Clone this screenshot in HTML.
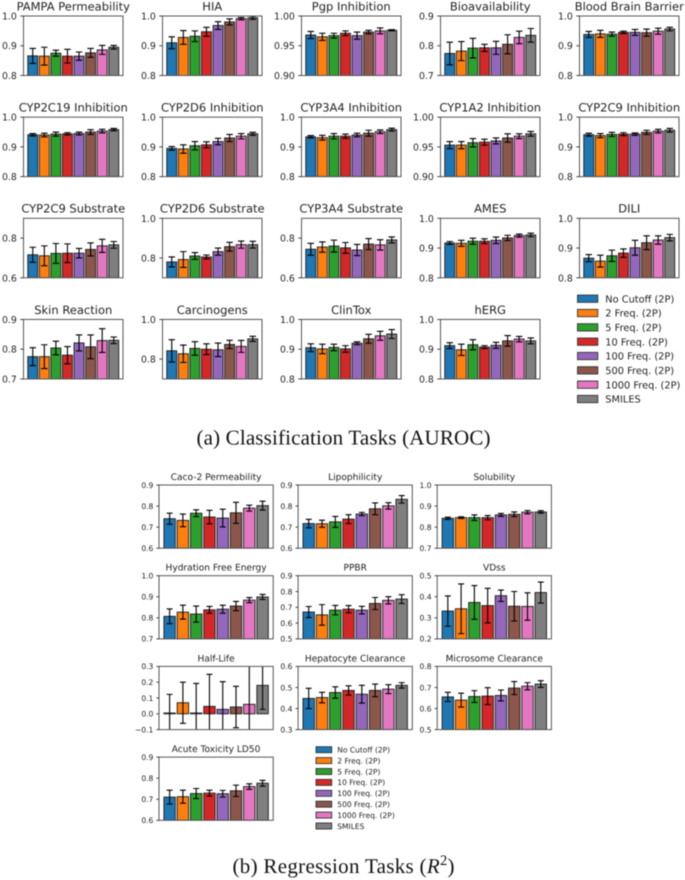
<!DOCTYPE html>
<html lang="en">
<head>
<meta charset="utf-8">
<title>Classification and Regression Task Results</title>
<style>
  html, body { margin: 0; padding: 0; background: #fff; width: 685px; height: 880px; overflow: hidden; }
  #figure { display: block; filter: blur(0.5px); text-rendering: geometricPrecision; }
  .sans { font-family: "DejaVu Sans", "Liberation Sans", sans-serif; fill: #222; }
  .serif { font-family: "Liberation Serif", serif; fill: #111; }
</style>
</head>
<body>
<svg id="figure" xmlns="http://www.w3.org/2000/svg" width="685" height="880" viewBox="0 0 685 880">
  <text class="serif" x="196.5" y="444.5" font-size="21" textLength="294" lengthAdjust="spacing">(a) Classification Tasks (AUROC)</text>
  <text class="serif" x="232.5" y="873" font-size="21" textLength="222" lengthAdjust="spacing">(b) Regression Tasks (<tspan font-style="italic">R</tspan><tspan font-size="14.5" dy="-8">2</tspan><tspan dy="8">)</tspan></text>
</svg>
<script>
/* ---------- shared series ---------- */
const categories = ["No Cutoff (2P)", "2 Freq. (2P)", "5 Freq. (2P)", "10 Freq. (2P)", "100 Freq. (2P)", "500 Freq. (2P)", "1000 Freq. (2P)", "SMILES"];
const seriesColors = ["#1f77b4", "#ff7f0e", "#2ca02c", "#d62728", "#9467bd", "#8c564b", "#e377c2", "#7f7f7f"];

/* ---------- (a) classification data ---------- */
const classTitles = ["PAMPA Permeability", "HIA", "Pgp Inhibition", "Bioavailability", "Blood Brain Barrier",
  "CYP2C19 Inhibition", "CYP2D6 Inhibition", "CYP3A4 Inhibition", "CYP1A2 Inhibition", "CYP2C9 Inhibition",
  "CYP2C9 Substrate", "CYP2D6 Substrate", "CYP3A4 Substrate", "AMES", "DILI",
  "Skin Reaction", "Carcinogens", "ClinTox", "hERG"];
const classValues = [
  [.866, .865, .875, .865, .865, .876, .886, .895],
  [.910, .928, .932, .947, .968, .980, .991, .994],
  [.968, .965, .967, .971, .967, .973, .975, .976],
  [.774, .782, .792, .793, .793, .805, .828, .835],
  [.938, .940, .939, .945, .945, .944, .949, .956],
  [.941, .940, .943, .944, .945, .950, .953, .958],
  [.895, .893, .904, .907, .918, .930, .936, .944],
  [.934, .931, .936, .936, .940, .946, .951, .958],
  [.953, .953, .957, .958, .960, .965, .968, .972],
  [.941, .938, .942, .943, .943, .949, .953, .956],
  [.716, .711, .723, .724, .724, .743, .761, .766],
  [.780, .792, .810, .805, .832, .857, .867, .867],
  [.744, .755, .760, .751, .740, .770, .766, .791],
  [.917, .916, .923, .923, .926, .934, .942, .944],
  [.866, .856, .874, .883, .901, .918, .927, .935],
  [.775, .775, .804, .780, .821, .808, .829, .830],
  [.842, .827, .854, .850, .847, .874, .864, .902],
  [.905, .901, .906, .901, .920, .935, .945, .951],
  [.912, .898, .915, .907, .913, .928, .934, .928]
];
const classErrors = [
  [.025, .030, .010, .023, .014, .015, .015, .006],
  [.020, .023, .018, .015, .013, .010, .004, .005],
  [.006, .006, .004, .004, .006, .003, .005, .001],
  [.038, .032, .033, .012, .022, .032, .021, .023],
  [.010, .012, .007, .004, .010, .012, .010, .006],
  [.004, .006, .007, .004, .005, .008, .006, .004],
  [.006, .014, .014, .010, .011, .012, .009, .005],
  [.004, .008, .009, .007, .006, .010, .006, .005],
  [.006, .006, .007, .005, .005, .007, .004, .004],
  [.005, .007, .007, .005, .004, .007, .006, .006],
  [.038, .050, .050, .047, .024, .033, .033, .017],
  [.025, .040, .017, .010, .018, .022, .018, .017],
  [.030, .026, .030, .027, .028, .028, .026, .015],
  [.005, .010, .010, .008, .011, .009, .005, .006],
  [.012, .020, .019, .014, .025, .023, .014, .011],
  [.030, .040, .023, .029, .027, .040, .040, .011],
  [.056, .044, .034, .027, .034, .021, .030, .013],
  [.013, .016, .011, .011, .005, .015, .015, .015],
  [.010, .019, .017, .005, .010, .018, .009, .010]
];
const classLimits = [
  [.8, 1], [.8, 1], [.9, 1], [.7, .9], [.8, 1],
  [.8, 1], [.8, 1], [.8, 1], [.9, 1], [.8, 1],
  [.6, .9], [.7, 1], [.6, .9], [.8, 1], [.8, 1],
  [.7, .9], [.7, 1], [.8, 1], [.8, 1]
];
const classTickLabels = [
  ["0.8", "0.9", "1.0"], ["0.8", "0.9", "1.0"], ["0.90", "0.95", "1.00"], ["0.7", "0.8", "0.9"], ["0.8", "0.9", "1.0"],
  ["0.8", "0.9", "1.0"], ["0.8", "0.9", "1.0"], ["0.8", "0.9", "1.0"], ["0.90", "0.95", "1.00"], ["0.8", "0.9", "1.0"],
  ["0.6", "0.8"], ["0.8", "1.0"], ["0.6", "0.8"], ["0.8", "0.9", "1.0"], ["0.8", "0.9", "1.0"],
  ["0.7", "0.8", "0.9"], ["0.8", "1.0"], ["0.8", "0.9", "1.0"], ["0.8", "0.9", "1.0"]
];

/* ---------- (b) regression data ---------- */
const regTitles = ["Caco-2 Permeability", "Lipophilicity", "Solubility",
  "Hydration Free Energy", "PPBR", "VDss",
  "Half-Life", "Hepatocyte Clearance", "Microsome Clearance",
  "Acute Toxicity LD50"];
const regValues = [
  [.740, .732, .766, .748, .743, .768, .790, .802],
  [.717, .716, .725, .738, .762, .787, .801, .832],
  [.842, .845, .845, .845, .858, .861, .871, .872],
  [.807, .827, .818, .838, .841, .856, .884, .899],
  [.670, .652, .682, .688, .682, .724, .744, .752],
  [.332, .343, .373, .358, .405, .355, .354, .420],
  [.005, .070, .005, .047, .028, .043, .060, .180],
  [.448, .452, .476, .486, .468, .486, .492, .510],
  [.655, .640, .657, .659, .662, .697, .706, .716],
  [.710, .712, .727, .729, .726, .740, .760, .776]
];
const regErrors = [
  [.026, .030, .016, .032, .042, .050, .014, .021],
  [.020, .017, .026, .021, .008, .028, .015, .018],
  [.005, .004, .013, .010, .007, .011, .008, .006],
  [.035, .033, .038, .016, .019, .022, .012, .012],
  [.035, .065, .030, .023, .024, .038, .023, .028],
  [.072, .118, .080, .082, .027, .070, .065, .050],
  [.118, .130, .187, .203, .175, .131, .300, .152],
  [.048, .025, .027, .022, .042, .030, .021, .013],
  [.022, .033, .028, .040, .026, .031, .017, .016],
  [.033, .031, .024, .014, .016, .027, .013, .014]
];
const regLimits = [
  [.6, .9], [.6, .9], [.7, 1],
  [.7, 1], [.5, .9], [.2, .5],
  [-.1, .3], [.3, .6], [.5, .8],
  [.6, .9]
];
const regTickLabels = [
  ["0.6", "0.7", "0.8", "0.9"], ["0.6", "0.7", "0.8", "0.9"], ["0.7", "0.8", "0.9", "1.0"],
  ["0.7", "0.8", "0.9", "1.0"], ["0.5", "0.6", "0.7", "0.8", "0.9"], ["0.2", "0.3", "0.4", "0.5"],
  ["\u22120.1", "0.0", "0.1", "0.2", "0.3"], ["0.3", "0.4", "0.5", "0.6"], ["0.5", "0.6", "0.7", "0.8"],
  ["0.6", "0.7", "0.8", "0.9"]
];

/* ---------- drawing ---------- */
const SVG_NS = "http://www.w3.org/2000/svg";
const svg = document.getElementById("figure");
let clipCounter = 0;

function slug(text) {
  return text.toLowerCase().replace(/[^a-z0-9]+/g, "-").replace(/^-|-$/g, "");
}

function shape(tag, attrs, parent) {
  const node = document.createElementNS(SVG_NS, tag);
  for (const key in attrs) node.setAttribute(key, attrs[key]);
  parent.appendChild(node);
  return node;
}

function makeYScale(limits, top, height) {
  return function (value) {
    return top + height * (limits[1] - value) / (limits[1] - limits[0]);
  };
}

function makeXScale(left, width) {
  const step = width / 8.6;
  return function (index) {
    return left + step * (0.8 + index);
  };
}

function tickValue(label) {
  return Number(label.replace("\u2212", "-"));
}

function drawPanel(layout, row, col, title, values, errors, limits, tickLabels) {
  const left = layout.left + col * layout.stepX;
  const top = layout.top + row * layout.stepY;
  const w = layout.width;
  const h = layout.height;
  const y = makeYScale(limits, top, h);
  const x = makeXScale(left, w);
  const barWidth = (w / 8.6) * 0.86;
  const base = slug(title);

  const panel = shape("g", {}, svg);
  
  

  const clipId = "plot-clip-" + (clipCounter++);
  const clip = shape("clipPath", { id: clipId }, panel);
  shape("rect", { x: left, y: top, width: w, height: h }, clip);

  const marks = shape("g", { "clip-path": "url(#" + clipId + ")" }, panel);
  
  

  const zero = limits[0] > 0 ? limits[0] : 0;
  values.forEach(function (value, i) {
    const cx = x(i);
    const barTop = Math.min(y(value), y(zero));
    const barHeight = Math.abs(y(value) - y(zero));
    const bar = shape("rect", {
      x: cx - barWidth / 2, y: barTop, width: barWidth, height: barHeight,
      fill: seriesColors[i], stroke: "#222", "stroke-width": 0.95
    }, marks);
    
    

    const yHigh = y(value + errors[i]);
    const yLow = y(value - errors[i]);
    const cap = layout.cap / 2;
    const err = shape("path", {
      d: "M" + cx + " " + yHigh + "V" + yLow +
         "M" + (cx - cap) + " " + yHigh + "H" + (cx + cap) +
         "M" + (cx - cap) + " " + yLow + "H" + (cx + cap),
      fill: "none", stroke: "#000", "stroke-width": 1.1
    }, marks);
    
    
  });

  const frame = shape("rect", {
    x: left, y: top, width: w, height: h, fill: "none", stroke: "#555", "stroke-width": 1
  }, panel);
  
  

  tickLabels.forEach(function (label) {
    const ty = y(tickValue(label));
    const tick = shape("line", {
      x1: left - layout.tickLen, x2: left, y1: ty, y2: ty, stroke: "#333", "stroke-width": 0.9
    }, panel);
    
    

    const text = shape("text", {
      x: left - layout.tickLen - layout.tickPad,
      y: ty + layout.tickSize * 0.37,
      "text-anchor": "end",
      "font-size": layout.tickSize,
      class: "sans"
    }, panel);
    text.textContent = label;
    
    
  });

  const heading = shape("text", {
    x: left + w / 2,
    y: top - layout.titleGap,
    "text-anchor": "middle",
    "font-size": layout.titleSize,
    class: "sans"
  }, panel);
  heading.textContent = title;
  
  
}

function drawLegend(name, spec) {
  const legend = shape("g", {}, svg);
  
  
  categories.forEach(function (category, i) {
    const cy = spec.y + i * spec.stepY;
    const entry = shape("g", {}, legend);
    
    

    const swatch = shape("rect", {
      x: spec.x, y: cy - spec.swatchH / 2, width: spec.swatchW, height: spec.swatchH,
      fill: seriesColors[i], stroke: "#333", "stroke-width": 0.9
    }, entry);
    
    

    const label = shape("text", {
      x: spec.textX, y: cy + spec.fontSize * 0.37, "font-size": spec.fontSize, class: "sans"
    }, entry);
    label.textContent = category;
    
    
  });
}

const topLayout = { left: 23.5, top: 16, stepX: 139, stepY: 101.15, width: 99.5, height: 59.5, cap: 6.5, tickLen: 3.2, tickPad: 3.4, tickSize: 9.4, titleSize: 11.5, titleGap: 5.6 };
const bottomLayout = { left: 159, top: 485, stepX: 139.1, stepY: 90.7, width: 114.2, height: 63.2, cap: 6, tickLen: 2.6, tickPad: 3, tickSize: 7.6, titleSize: 9.05, titleGap: 5 };

classTitles.forEach(function (title, n) {
  drawPanel(topLayout, Math.floor(n / 5), n % 5, title, classValues[n], classErrors[n], classLimits[n], classTickLabels[n]);
});
regTitles.forEach(function (title, n) {
  drawPanel(bottomLayout, Math.floor(n / 3), n % 3, title, regValues[n], regErrors[n], regLimits[n], regTickLabels[n]);
});

drawLegend("classification-legend", { x: 577.5, y: 298.7, stepY: 14.33, swatchW: 20.3, swatchH: 7.3, textX: 605.3, fontSize: 9.8 });
drawLegend("regression-legend", { x: 316, y: 749.7, stepY: 10.9, swatchW: 15.7, swatchH: 6, textX: 337.3, fontSize: 7.5 });
</script>
</body>
</html>
